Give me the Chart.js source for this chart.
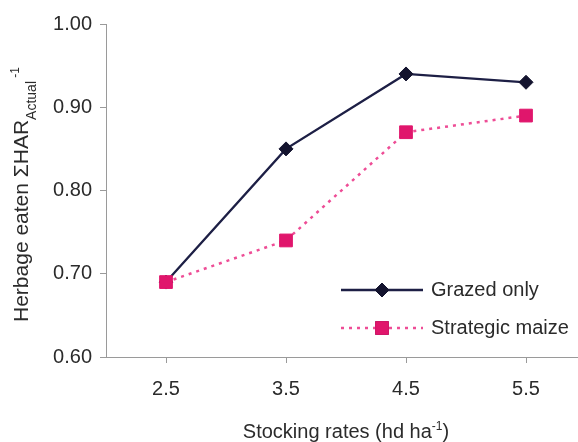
<!DOCTYPE html>
<html>
<head>
<meta charset="utf-8">
<script src="https://cdn.jsdelivr.net/npm/chart.js@4"></script>
<style>
  html, body { margin: 0; padding: 0; background: #fff; overflow: hidden; }
  #wrap { width: 600px; height: 442px; position: relative; }
</style>
</head>
<body>
<div id="wrap"><canvas id="myChart"></canvas></div>
<script>
// stocking rates (hd/ha)
var rates = ['2.5', '3.5', '4.5', '5.5'];
// herbage eaten / sum HAR actual
var grazedOnly = [0.69, 0.85, 0.94, 0.93];
var strategicMaize = [0.69, 0.74, 0.87, 0.89];
var yTicks = [0.60, 0.70, 0.80, 0.90, 1.00];

var FONT = '"Liberation Sans", Arial, sans-serif';
var TEXT = '#2b2b2b';
var AXIS = '#9a9a9a';

// draw text pieces with sub/superscripts, returns total width
function drawRich(ctx, parts, x, y, measureOnly) {
    var cx = x;
    parts.forEach(function (p) {
        ctx.font = p.size + 'px ' + FONT;
        if (!measureOnly) ctx.fillText(p.t, cx, y + (p.dy || 0));
        cx += ctx.measureText(p.t).width;
    });
    return cx - x;
}

var titlesPlugin = {
    id: 'titles',
    afterDraw: function (chart) {
        var ctx = chart.ctx;
        var area = chart.chartArea;
        ctx.save();
        ctx.fillStyle = TEXT;
        ctx.textBaseline = 'alphabetic';
        ctx.textAlign = 'left';

        // y title (rotated)
        ctx.save();
        ctx.translate(28, 322);
        ctx.rotate(-Math.PI / 2);
        drawRich(ctx, [
            { t: 'Herbage eaten ΣHAR', size: 21 },
            { t: 'Actual', size: 14, dy: 8 },
            { t: ' -1', size: 12, dy: -9 }
        ], 0, 0);
        ctx.restore();

        // x title
        var xParts = [
            { t: 'Stocking rates (hd ha', size: 20 },
            { t: '-1', size: 12, dy: -8 },
            { t: ')', size: 20 }
        ];
        var w = drawRich(ctx, xParts, 0, 0, true);
        drawRich(ctx, xParts, (area.left + area.right) / 2 - w / 2, 438);

        // legend
        var ds = chart.data.datasets;
        var rows = [{ d: ds[0], y: 290 }, { d: ds[1], y: 328 }];
        rows.forEach(function (r) {
            var d = r.d;
            ctx.save();
            ctx.strokeStyle = d.borderColor;
            ctx.lineWidth = d.borderWidth;
            ctx.setLineDash(d.borderDash || []);
            ctx.beginPath();
            ctx.moveTo(341, r.y);
            ctx.lineTo(423, r.y);
            ctx.stroke();
            ctx.restore();
            Chart.helpers.drawPoint(ctx, {
                pointStyle: d.pointStyle,
                radius: d.pointRadius,
                borderWidth: 1
            }, 382, r.y);
            ctx.fillStyle = d.pointBackgroundColor;
            ctx.strokeStyle = d.pointBorderColor;
            ctx.fill();
            ctx.stroke();
            ctx.fillStyle = TEXT;
            ctx.font = '20px ' + FONT;
            ctx.textBaseline = 'middle';
            ctx.fillText(d.label, 431, r.y);
        });
        ctx.restore();
    }
};

var ctx = document.getElementById('myChart').getContext('2d');
var chart = new Chart(ctx, {
    type: 'line',
    data: {
        labels: rates,
        datasets: [{
            label: 'Grazed only',
            data: grazedOnly,
            borderColor: '#1d1f45',
            borderWidth: 2.3,
            pointStyle: 'rectRot',
            pointRadius: 7,
            pointBackgroundColor: '#13132e',
            pointBorderColor: '#13132e',
            pointBorderWidth: 1,
            tension: 0,
            order: 1
        }, {
            label: 'Strategic maize',
            data: strategicMaize,
            borderColor: '#ee4d96',
            borderWidth: 2.5,
            borderDash: [3, 5],
            pointStyle: 'rect',
            pointRadius: 9,
            pointBackgroundColor: '#e0166c',
            pointBorderColor: '#e0166c',
            pointBorderWidth: 1,
            tension: 0,
            order: 0
        }]
    },
    options: {
        responsive: true,
        maintainAspectRatio: false,
        animation: false,
        layout: { padding: { top: 24, right: 14, left: 0, bottom: 0 } },
        plugins: {
            legend: { display: false },
            tooltip: { enabled: false }
        },
        scales: {
            x: {
                offset: true,
                grid: { display: true, drawOnChartArea: false, drawTicks: true, tickLength: 6, color: AXIS },
                border: { display: true, color: AXIS, width: 1 },
                ticks: { color: TEXT, font: { family: FONT, size: 20 }, padding: 14, maxRotation: 0 },
                afterFit: function (scale) { scale.height = 85; }
            },
            y: {
                min: 0.6,
                max: 1.0,
                afterBuildTicks: function (scale) {
                    scale.ticks = yTicks.map(function (v) { return { value: v }; });
                },
                grid: { display: true, drawOnChartArea: false, drawTicks: true, tickLength: 6, color: AXIS },
                border: { display: true, color: AXIS, width: 1 },
                ticks: {
                    color: TEXT,
                    font: { family: FONT, size: 20 },
                    padding: 8,
                    callback: function (v) { return Number(v).toFixed(2); }
                },
                afterFit: function (scale) { scale.width = 106; }
            }
        }
    },
    plugins: [titlesPlugin]
});
</script>
</body>
</html>
